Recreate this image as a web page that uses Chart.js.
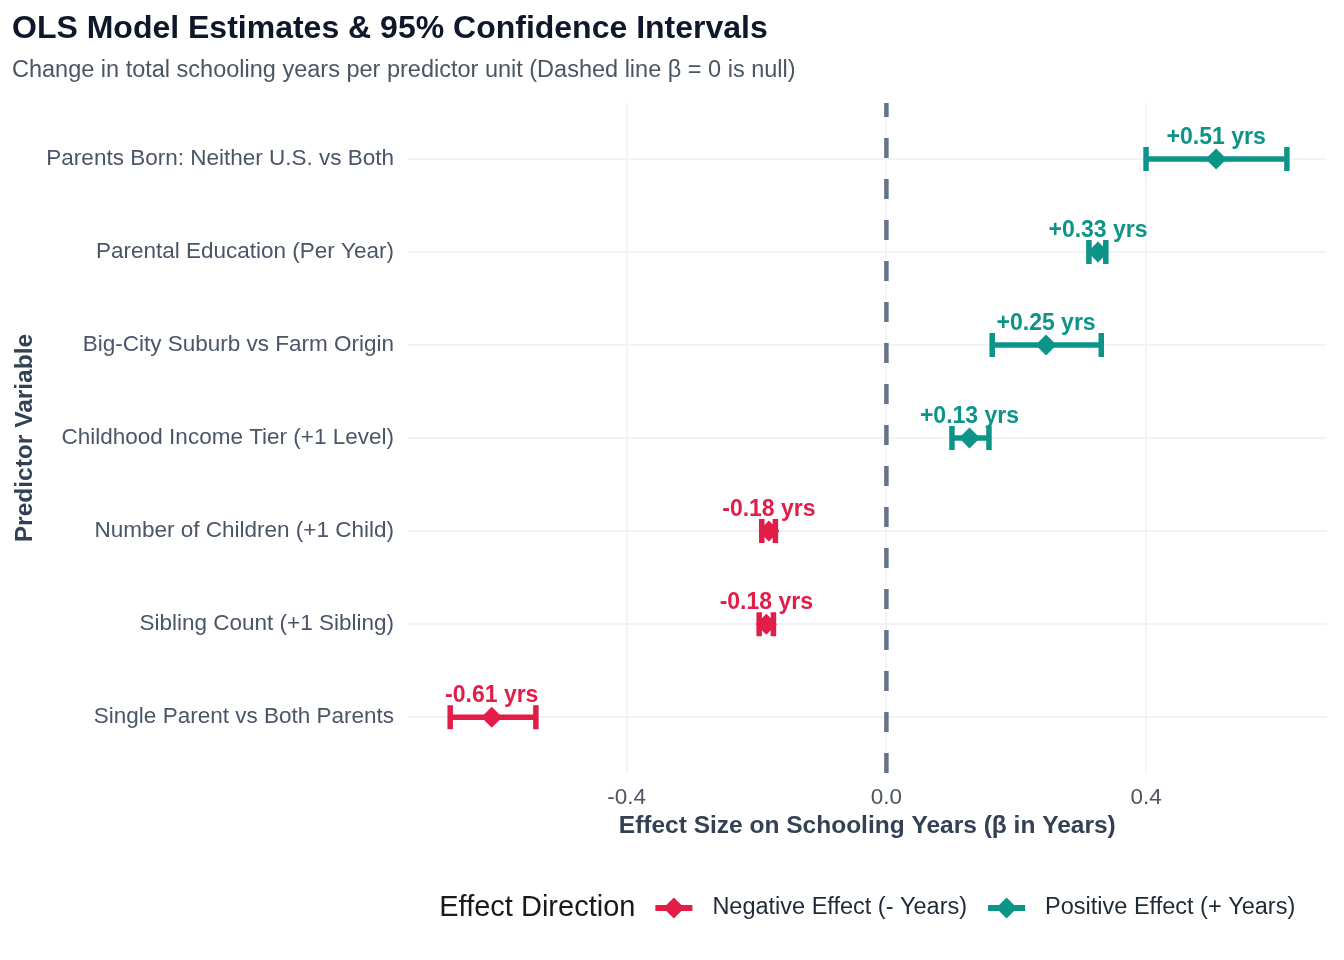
<!DOCTYPE html>
<html>
<head>
<meta charset="utf-8">
<script src="https://cdn.jsdelivr.net/npm/chart.js@4.4.1/dist/chart.umd.min.js"></script>
<style>
  html, body { margin: 0; padding: 0; background: #fff; overflow: hidden; }
  canvas { display: block; }
</style>
</head>
<body>
<canvas id="forest" width="1344" height="960"></canvas>
<script>
// --- datos ---
const predictors = [
    "Parents Born: Neither U.S. vs Both",
    "Parental Education (Per Year)",
    "Big-City Suburb vs Farm Origin",
    "Childhood Income Tier (+1 Level)",
    "Number of Children (+1 Child)",
    "Sibling Count (+1 Sibling)",
    "Single Parent vs Both Parents"
];
const estimates = [0.508, 0.326, 0.246, 0.128, -0.181, -0.185, -0.608];
const ciLow     = [0.400, 0.312, 0.163, 0.101, -0.192, -0.196, -0.672];
const ciHigh    = [0.617, 0.338, 0.331, 0.158, -0.171, -0.174, -0.540];
const xTicks = [-0.4, 0.0, 0.4];
const directions = ["Negative Effect (- Years)", "Positive Effect (+ Years)"];
const directionColors = ["#e11d48", "#0d9488"];

const FONT = "'Liberation Sans', Arial, sans-serif";
const colorFor = v => v < 0 ? directionColors[0] : directionColors[1];
const fmt = v => (v > 0 ? "+" : "") + v.toFixed(2) + " yrs";

const datasets = [];

// --- línea nula (beta = 0) ---
datasets.push({
    type: "line",
    data: [{ x: 0, y: -0.6 }, { x: 0, y: 6.6 }],
    borderColor: "#64748b",
    borderWidth: 4.5,
    borderDash: [20, 21],
    borderDashOffset: 6,
    pointRadius: 0,
    order: 3
});

// --- intervalos de confianza ---
predictors.forEach((p, i) => {
    const c = colorFor(estimates[i]);
    datasets.push({
        type: "line",
        data: [{ x: ciLow[i], y: i }, { x: ciHigh[i], y: i }],
        borderColor: c,
        borderWidth: 5.5,
        pointStyle: "line",
        pointRotation: 90,
        pointRadius: 12,
        pointBorderWidth: 5.5,
        pointBorderColor: c,
        order: 2
    });
});

// --- estimaciones puntuales ---
[0, 1].forEach(d => {
    datasets.push({
        type: "scatter",
        label: directions[d],
        data: estimates
            .map((v, i) => ({ x: v, y: i }))
            .filter(pt => (d === 0) === (pt.x < 0)),
        pointStyle: "rectRot",
        pointRadius: 10.5,
        pointBackgroundColor: directionColors[d],
        pointBorderWidth: 0,
        order: 1
    });
});

// --- etiquetas de valor ---
const valueLabels = {
    id: "valueLabels",
    afterDatasetsDraw(chart) {
        const { ctx, scales: { x, y } } = chart;
        ctx.save();
        ctx.font = "bold 23px " + FONT;
        ctx.textAlign = "center";
        ctx.textBaseline = "middle";
        estimates.forEach((v, i) => {
            ctx.fillStyle = colorFor(v);
            ctx.fillText(fmt(v), x.getPixelForValue(v), y.getPixelForValue(i) - 21.5);
        });
        ctx.restore();
    }
};

// --- leyenda inferior ---
const bottomLegend = {
    id: "bottomLegend",
    afterDraw(chart) {
        const { ctx, chartArea } = chart;
        const yMid = chart.height - 52;
        const titleFont = "29px " + FONT;
        const itemFont = "23.5px " + FONT;
        const symW = 37;

        ctx.save();
        ctx.font = titleFont;
        const titleW = ctx.measureText("Effect Direction").width;
        ctx.font = itemFont;
        const itemW = directions.map(t => ctx.measureText(t).width);
        const total = titleW + 20 + (symW + 20 + itemW[0]) + 21 + (symW + 20 + itemW[1]);
        let x = (chartArea.left + chartArea.right) / 2 - total / 2;

        ctx.textBaseline = "middle";
        ctx.textAlign = "left";
        ctx.fillStyle = "#1a1a1a";
        ctx.font = titleFont;
        ctx.fillText("Effect Direction", x, yMid);
        x += titleW + 20;

        directions.forEach((t, d) => {
            ctx.strokeStyle = directionColors[d];
            ctx.lineWidth = 6;
            ctx.beginPath();
            ctx.moveTo(x, yMid);
            ctx.lineTo(x + symW, yMid);
            ctx.stroke();
            ctx.fillStyle = directionColors[d];
            ctx.beginPath();
            ctx.moveTo(x + symW / 2 - 10.5, yMid);
            ctx.lineTo(x + symW / 2, yMid - 10.5);
            ctx.lineTo(x + symW / 2 + 10.5, yMid);
            ctx.lineTo(x + symW / 2, yMid + 10.5);
            ctx.closePath();
            ctx.fill();
            x += symW + 20;
            ctx.fillStyle = "#1f2937";
            ctx.font = itemFont;
            ctx.fillText(t, x, yMid);
            x += itemW[d] + 21;
        });
        ctx.restore();
    }
};

new Chart(document.getElementById("forest"), {
    type: "scatter",
    data: { datasets },
    plugins: [valueLabels, bottomLegend],
    options: {
        responsive: false,
        devicePixelRatio: 1,
        animation: false,
        events: [],
        layout: { padding: { left: 12, right: 16, top: 10, bottom: 90 } },
        plugins: {
            legend: { display: false },
            tooltip: { enabled: false },
            title: {
                display: true,
                text: "OLS Model Estimates & 95% Confidence Intervals",
                align: "start",
                color: "#0f172a",
                font: { family: FONT, size: 32, weight: "bold" },
                padding: { top: 0, bottom: 8.5 }
            },
            subtitle: {
                display: true,
                text: "Change in total schooling years per predictor unit (Dashed line β = 0 is null)",
                align: "start",
                color: "#4b5563",
                font: { family: FONT, size: 23.5 },
                padding: { top: 0, bottom: 18 }
            }
        },
        scales: {
            x: {
                type: "linear",
                min: -0.737,
                max: 0.678,
                afterBuildTicks: s => { s.ticks = xTicks.map(v => ({ value: v })); },
                afterFit: s => { s.height = 97; },
                ticks: {
                    callback: v => v.toFixed(1),
                    color: "#4b5563",
                    font: { family: FONT, size: 22.5 },
                    padding: 11
                },
                grid: { color: "#f1f3f8", lineWidth: 2, drawTicks: false },
                border: { display: false },
                title: {
                    display: true,
                    text: "Effect Size on Schooling Years (β in Years)",
                    color: "#334155",
                    font: { family: FONT, size: 24.5, weight: "bold" },
                    padding: { top: 0, bottom: 29 }
                }
            },
            y: {
                type: "linear",
                reverse: true,
                min: -0.6,
                max: 6.6,
                afterBuildTicks: s => { s.ticks = predictors.map((p, i) => ({ value: i })); },
                afterFit: s => { s.width = 396; },
                ticks: {
                    callback: v => predictors[v],
                    color: "#4a5568",
                    font: { family: FONT, size: 22.5 },
                    padding: 14,
                    autoSkip: false
                },
                grid: { color: "#f1f3f8", lineWidth: 2, drawTicks: false },
                border: { display: false },
                title: {
                    display: true,
                    text: "Predictor Variable",
                    color: "#334155",
                    font: { family: FONT, size: 24.5, weight: "bold", lineHeight: 1 },
                    padding: { top: 1, bottom: 0 }
                }
            }
        }
    }
});
</script>
</body>
</html>
